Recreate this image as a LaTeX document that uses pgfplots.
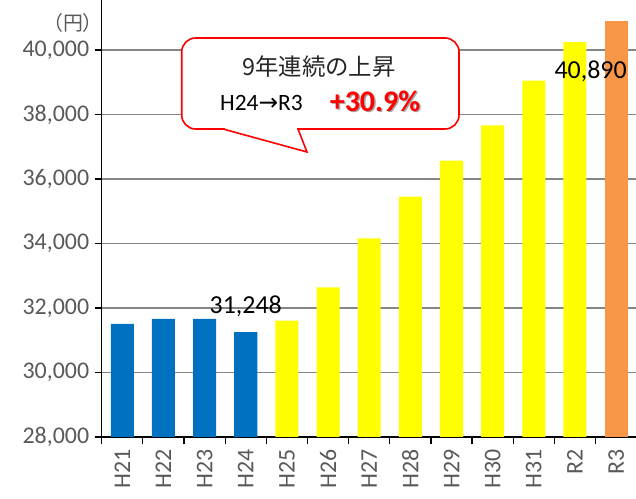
\documentclass[border=0pt]{standalone}
\usepackage{pgfplots}
\pgfplotsset{compat=1.18}
\usepackage{fontspec}
\setmainfont{Carlito}
\newfontfamily\cjk{Noto Sans CJK JP}
\newfontfamily\dejavu{DejaVu Sans}
\definecolor{barblue}{HTML}{0070C0}
\definecolor{baryellow}{HTML}{FFFF00}
\definecolor{barorange}{HTML}{F79646}
\definecolor{labgray}{HTML}{595959}
\definecolor{gridgray}{HTML}{868686}
\begin{document}
\begin{tikzpicture}
\path[use as bounding box] (0,0) rectangle (636bp,499bp);
\begin{axis}[
  at={(101.7bp,62bp)}, anchor=south west,
  scale only axis, width=535bp, height=437bp,
  xmin=-0.5, xmax=12.5, ymin=28000, ymax=41550,
  axis lines=left, axis line style={-, line width=1.3bp, black},
  ymajorgrids, grid style={gridgray, line width=1.2bp},
  tick align=outside, major tick length=7bp, tick style={black, line width=1.2bp},
  ytick={28000,30000,...,40000},
  yticklabels={{28,000},{30,000},{32,000},{34,000},{36,000},{38,000},{40,000}},
  xtick={-0.5,0.5,...,12.5},
  x tick label as interval,
  xticklabels={H21,H22,H23,H24,H25,H26,H27,H28,H29,H30,H31,R2,R3},
  xticklabel style={rotate=90, anchor=east, xshift=-2bp, font=\fontsize{24}{28}\selectfont, text=labgray},
  yticklabel style={xshift=-2bp, font=\fontsize{24}{28}\selectfont, text=labgray},
]
\addplot[ybar, bar width=0.56, bar shift=0pt, fill=barblue, draw=none] coordinates {(0,31510) (1,31660) (2,31660) (3,31248)};
\addplot[ybar, bar width=0.56, bar shift=0pt, fill=baryellow, draw=none] coordinates {(4,31610) (5,32640) (6,34155) (7,35450) (8,36570) (9,37660) (10,39050) (11,40240)};
\addplot[ybar, bar width=0.56, bar shift=0pt, fill=barorange, draw=none] coordinates {(12,40890)};
\node[font=\fontsize{26}{30}\selectfont] at (axis cs:3,32067) {31,248};
\node[font=\fontsize{26}{30}\selectfont] at (axis cs:11.38,39332) {40,890};
\end{axis}
\begin{scope}[x=1bp,y=-1bp,yshift=499bp]
\node[font=\cjk\fontsize{20}{24}\selectfont, text=labgray] at (73,22.5) {（円）};
\draw[red, line width=1.6bp, fill=white, rounded corners=14bp] (181.7,38) rectangle (459,129);
\fill[white] (224.5,126) rectangle (296.5,132);
\draw[red, line width=1.6bp, line join=miter] (223,129) -- (307,152) -- (298,129);
\node[font=\cjk\fontsize{23.5}{28}\selectfont, text=black!85] at (319,66.5) {9年連続の上昇};
\node[font=\fontsize{23.5}{28}\selectfont] at (261.5,102.5) {H24{\dejavu →}R3};
\node[font=\bfseries\fontsize{30}{34}\selectfont, text=black!35] at (376.5,102.5) {+30.9\%};
\node[font=\bfseries\fontsize{30}{34}\selectfont, text=red] at (375,101) {+30.9\%};
\end{scope}
\end{tikzpicture}
\end{document}
